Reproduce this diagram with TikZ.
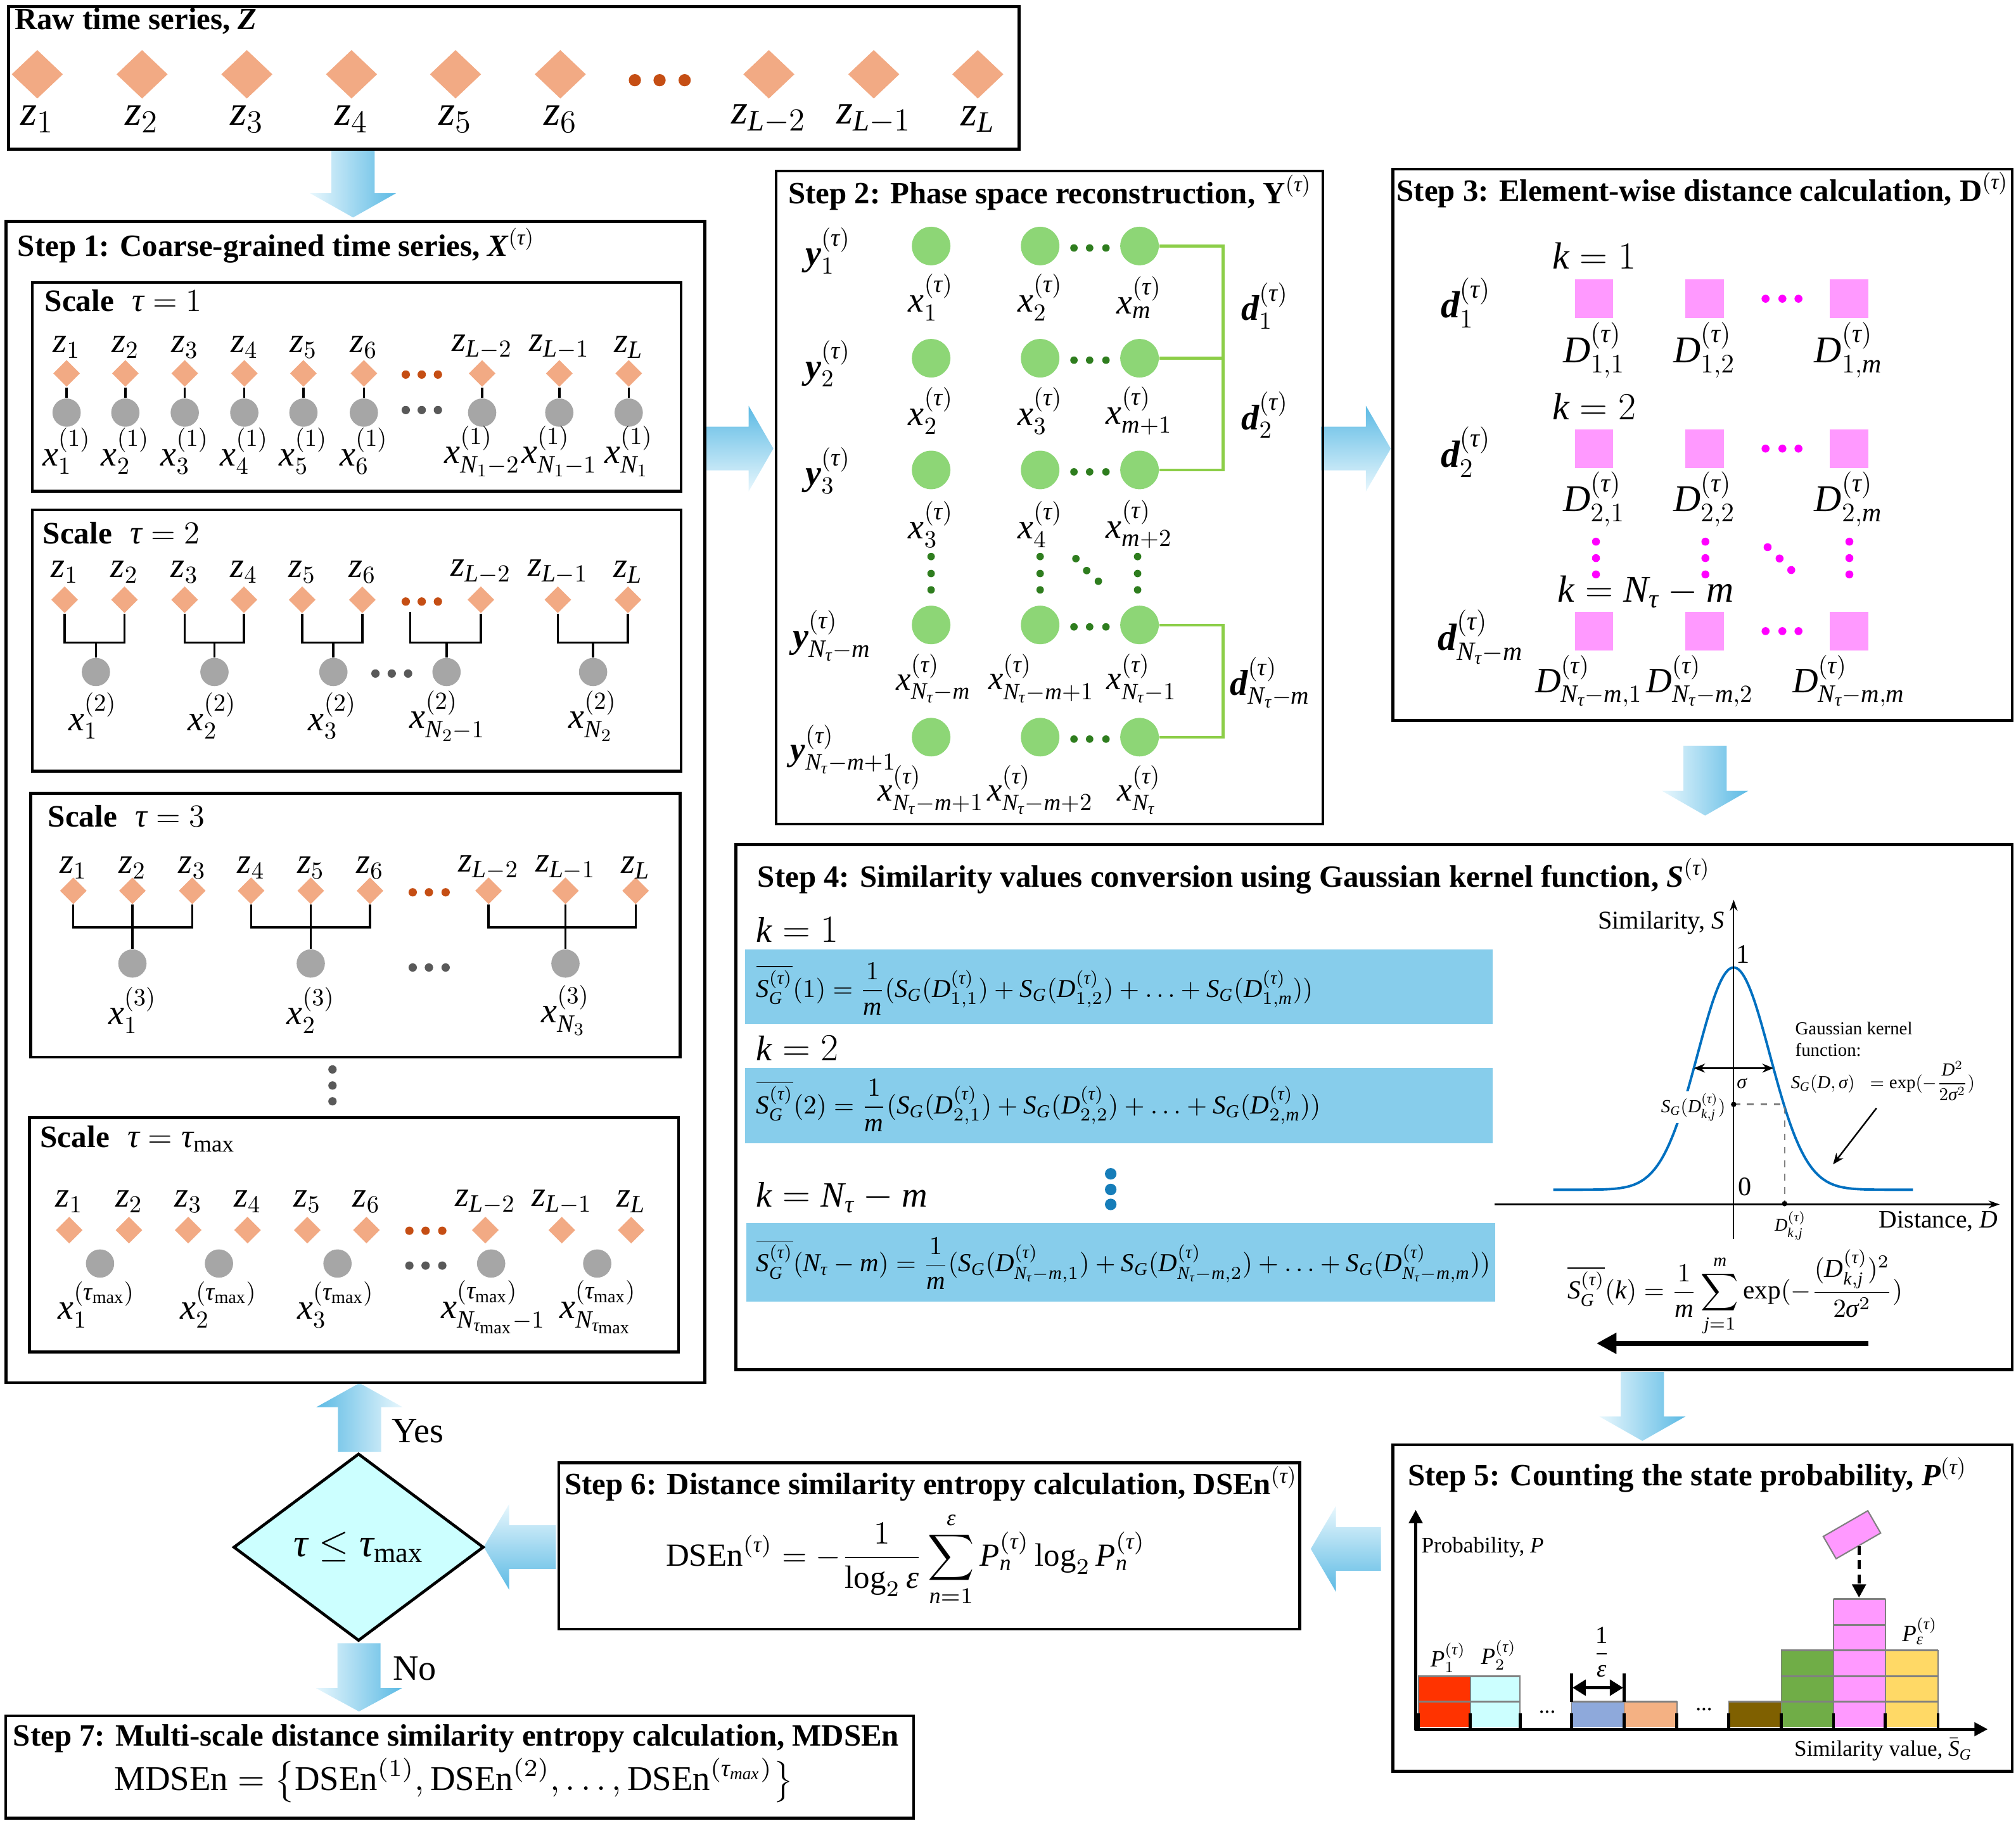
\documentclass[tikz,border=0pt]{standalone}
\usepackage{amsmath}
\usepackage{fontspec}
\setmainfont{Liberation Serif}
\usepackage{graphicx}
\usetikzlibrary{shapes.geometric,arrows.meta}
\DeclareSymbolFont{tletters}{TU}{\rmdefault}{m}{it}
\SetSymbolFont{tletters}{bold}{TU}{\rmdefault}{\bfdefault}{it}
\makeatletter
\AtBeginDocument{%
  \count@=`a \loop\Umathcode\count@="7 \symtletters\count@ \ifnum\count@<`z \advance\count@\@ne\repeat
  \count@=`A \loop\Umathcode\count@="7 \symtletters\count@ \ifnum\count@<`Z \advance\count@\@ne\repeat
  \Umathchardef\tau="0 \symtletters "03C4
  \Umathchardef\sigma="0 \symtletters "03C3
  \Umathchardef\varepsilon="0 \symtletters "03B5
}
\makeatother
\newlength\uu
\setlength\uu{0.020293cm}
\newcommand\fsz[1]{\fontsize{#1}{#1}\selectfont}
\newcommand\boxat[5]{\node[box, minimum width={(#4-#2)*\uu}, minimum height={(#5-#3)*\uu}] (#1) at (#2,#3) {};}
\newcommand\barV[6]{\shade[left color=#1, right color=#2] ({#3-16.8},#4) -- ({#3+16.8},#4) -- ({#3+16.8},#5) -- ({#3+33.5},#5) -- (#3,#6) -- ({#3-33.5},#5) -- ({#3-16.8},#5) -- cycle;}
\newcommand\barH[6]{\shade[top color=#1, bottom color=#2] (#4,{#3-17}) -- (#5,{#3-17}) -- (#5,{#3-33.3}) -- (#6,#3) -- (#5,{#3+33.3}) -- (#5,{#3+17}) -- (#4,{#3+17}) -- cycle;}
\definecolor{peach}{RGB}{242,170,132}
\definecolor{dotor}{RGB}{197,78,20}
\definecolor{grayc}{RGB}{166,166,166}
\definecolor{dotgray}{RGB}{89,89,89}
\definecolor{greenc}{RGB}{141,214,118}
\definecolor{greend}{RGB}{46,125,30}
\definecolor{greenl}{RGB}{140,206,72}
\definecolor{pinksq}{RGB}{255,153,255}
\definecolor{magdot}{RGB}{255,0,255}
\definecolor{band}{RGB}{135,205,235}
\definecolor{bluedot}{RGB}{22,125,185}
\definecolor{curvec}{RGB}{0,112,192}
\definecolor{cyanl}{RGB}{204,255,255}
\definecolor{arrdark}{RGB}{92,186,228}
\definecolor{arrlight}{RGB}{232,247,253}
\definecolor{barred}{RGB}{255,51,0}
\definecolor{barcyan}{RGB}{204,255,255}
\definecolor{barblue}{RGB}{142,169,219}
\definecolor{barpeach}{RGB}{244,177,131}
\definecolor{barbrown}{RGB}{127,96,0}
\definecolor{bargreen}{RGB}{112,173,71}
\definecolor{barpink}{RGB}{255,153,255}
\definecolor{baryellow}{RGB}{255,217,102}
\begin{document}
\begin{tikzpicture}[x=0.020293cm,y=-0.020293cm,
  box/.style={draw, line width=1.3pt, inner sep=0pt, anchor=north west},
  ttl/.style={anchor=west, inner sep=0pt, font=\bfseries\fsz{13.9}},
  sct/.style={anchor=west, inner sep=0pt, font=\bfseries\fsz{14}},
  lab/.style={inner sep=0pt, font=\fsz{16}},
  rawd/.style={diamond, fill=peach, inner sep=0pt, minimum width=40*\uu, minimum height=38*\uu},
  zd/.style={diamond, fill=peach, inner sep=0pt, minimum width=21*\uu, minimum height=21*\uu},
  gc/.style={circle, fill=grayc, inner sep=0pt, minimum size=22*\uu},
  od/.style={circle, fill=dotor, inner sep=0pt, minimum size=6.5*\uu},
  gd/.style={circle, fill=dotgray, inner sep=0pt, minimum size=6.5*\uu},
  conn/.style={line width=1pt},
  grc/.style={circle, fill=greenc, inner sep=0pt, minimum size=30*\uu},
  gdd/.style={circle, fill=greend, inner sep=0pt, minimum size=5.8*\uu},
  gline/.style={greenl, line width=1.2pt},
  psq/.style={rectangle, fill=pinksq, inner sep=0pt, minimum size=30*\uu},
  mdot/.style={circle, fill=magdot, inner sep=0pt, minimum size=6.2*\uu},
  bdot/.style={circle, fill=bluedot, inner sep=0pt, minimum size=9*\uu}]
\useasboundingbox (0,0) rectangle (1568,1416.3);

% ---------- block arrows ----------
\barV{arrlight}{arrdark}{274.6}{115.8}{150.3}{169.2}
\barH{arrdark}{arrlight}{349}{547.8}{582.3}{601.5}
\barH{arrdark}{arrlight}{349}{1027.5}{1062.4}{1081.7}
\barV{arrlight}{arrdark}{1326.2}{580.3}{615.3}{634.5}
\barV{arrlight}{arrdark}{1277.4}{1067.4}{1102}{1121}
\barH{arrlight}{arrdark}{1205}{1074}{1039}{1019.5}
\barH{arrlight}{arrdark}{1203.5}{432.3}{396}{376.2}
\barV{arrdark}{arrlight}{279.6}{1129.5}{1094.7}{1076}
\barV{arrlight}{arrdark}{279.2}{1278.4}{1313.3}{1331.5}

% ---------- boxes ----------
\boxat{raw}{5.5}{4}{791.5}{115}
\boxat{s1}{3.5}{171}{547}{1074.5}
\boxat{sc1}{24}{218.6}{528.5}{381}
\boxat{sc2}{24}{395.6}{528.5}{598.8}
\boxat{sc3}{22.9}{616}{527.8}{821.4}
\boxat{scm}{21.8}{868.5}{526.7}{1050.8}
\boxat{s2}{602.5}{132}{1027.7}{640}
\boxat{s3}{1082.3}{130.4}{1564}{559.5}
\boxat{s4}{571.3}{655.9}{1564}{1064.5}
\boxat{s5}{1082.2}{1122.8}{1564}{1376.8}
\boxat{s6}{433.6}{1136.8}{1009.7}{1266.2}
\boxat{s7}{3.3}{1333.7}{709.4}{1413.3}

% ---------- raw time series ----------
\node[ttl] (rawt) at (11,16.4) {Raw time series, $\boldsymbol{Z}$};
\foreach \x/\s [count=\i] in {29/1,110.5/2,192/3,273.4/4,354.3/5,435.8/6,598/L-2,679.6/L-1,760.5/L}{
  \node[rawd] (rz\i) at (\x,57.8) {};
  \node[lab,font=\fsz{19}] (rzl\i) at (\x,92.6) {$z_{\s}$};}
\foreach \x [count=\i] in {493.8,513,532.5} \node[od,minimum size=9.5*\uu] (rdt\i) at (\x,62.4) {};

% ---------- step 1 ----------
\node[ttl] (s1t) at (13.4,191) {Step 1: Coarse-grained time series, $\boldsymbol{X}^{(\tau)}$};
% scale 1
\node[sct] (sc1t) at (34.5,234) {Scale\hspace{8pt}{\fsz{15}$\tau=1$}};
\foreach \x/\s/\n [count=\i] in {51.8/1/1,97.5/2/2,143.7/3/3,190/4/4,236/5/5,283/6/6,375/L-2/N_1-2,435/L-1/N_1-1,489/L/N_1}{
  \node[zd] (ad\i) at (\x,290.5) {};
  \node[gc] (ac\i) at (\x,321) {};
  \draw[conn] (ad\i) -- (ac\i);
  \node[lab] (azl\i) at (\x,270) {$z_{\s}$};
  \node[lab] (axl\i) at (\x,351) {$x_{\n}^{(1)}$};}
\foreach \x [count=\i] in {315.6,328,340.6}{
  \node[od] (ao\i) at (\x,291.4) {};
  \node[gd] (ag\i) at (\x,319) {};}
% scale 2
\node[sct] (sc2t) at (33,415) {Scale\hspace{8pt}{\fsz{15}$\tau=2$}};
\foreach \x/\s [count=\i] in {50.3/1,96.8/2,143.6/3,189.7/4,235/5,281.8/6,374/L-2,433.9/L-1,488.4/L}{
  \node[zd] (bd\i) at (\x,466.6) {};
  \node[lab] (bzl\i) at (\x,445) {$z_{\s}$};}
\foreach \x [count=\i] in {315.6,328,340.6} \node[od] (bo\i) at (\x,468) {};
\foreach \x [count=\i] in {292,304.7,317.4} \node[gd] (bg\i) at (\x,524) {};
\foreach \x/\n [count=\i] in {74.6/1,166.8/2,259.3/3,347.3/N_2-1,461.3/N_2}{
  \node[gc] (bc\i) at (\x,522.8) {};
  \coordinate (hb\i) at (\x,500);}
\foreach \x/\n [count=\i] in {72/1,165/2,258.6/3,348/N_2-1,461/N_2}
  \node[lab] (bxl\i) at (\x,557) {$x_{\n}^{(2)}$};
\coordinate (bdots) at (319,475.8);
\draw[conn] (bd1.south) |- (hb1) -| (bd2.south); \draw[conn] (hb1) -- (bc1.north);
\draw[conn] (bd3.south) |- (hb2) -| (bd4.south); \draw[conn] (hb2) -- (bc2.north);
\draw[conn] (bd5.south) |- (hb3) -| (bd6.south); \draw[conn] (hb3) -- (bc3.north);
\draw[conn] (bdots) |- (hb4) -| (bd7.south); \draw[conn] (hb4) -- (bc4.north);
\draw[conn] (bd8.south) |- (hb5) -| (bd9.south); \draw[conn] (hb5) -- (bc5.north);
% scale 3
\node[sct] (sc3t) at (37,635) {Scale\hspace{8pt}{\fsz{15}$\tau=3$}};
\foreach \x/\s [count=\i] in {57/1,103/2,149.5/3,195.3/4,241.7/5,287.8/6,380/L-2,439.8/L-1,494.4/L}{
  \node[zd] (cd\i) at (\x,693) {};
  \node[lab] (czl\i) at (\x,675) {$z_{\s}$};}
\foreach \x [count=\i] in {321,333.6,346.6}{
  \node[od] (co\i) at (\x,694.2) {};
  \node[gd] (cg\i) at (\x,752.7) {};}
\foreach \x/\n [count=\i] in {103/1,241.7/2,439.8/N_3}{
  \node[gc] (cc\i) at (\x,749.6) {};
  \coordinate (hc\i) at (\x,721.3);
  \node[lab] (cxl\i) at (\x,786) {$x_{\n}^{(3)}$};}
\draw[conn] (cd1.south) |- (hc1) -| (cd3.south); \draw[conn] (cd2.south) -- (cc1.north);
\draw[conn] (cd4.south) |- (hc2) -| (cd6.south); \draw[conn] (cd5.south) -- (cc2.north);
\draw[conn] (cd7.south) |- (hc3) -| (cd9.south); \draw[conn] (cd8.south) -- (cc3.north);
\foreach \y [count=\i] in {832,844.5,856.8} \node[gd] (vd\i) at (258.6,\y) {};
% scale tau max
\node[sct] (scmt) at (31,886) {Scale\hspace{8pt}{\fsz{15}$\tau=\tau_{\max}$}};
\foreach \x/\s [count=\i] in {53.8/1,100.3/2,146.4/3,192.5/4,239/5,285/6,377.5/L-2,437/L-1,490.9/L}{
  \node[zd] (md\i) at (\x,957) {};
  \node[lab] (mzl\i) at (\x,935) {$z_{\s}$};}
\foreach \x [count=\i] in {318.4,331,344}{
  \node[od] (mo\i) at (\x,957.5) {};
  \node[gd] (mg\i) at (\x,984.6) {};}
\foreach \x [count=\i] in {77.8,170.3,262.5,382,464.5} \node[gc] (mc\i) at (\x,983) {};
\node[lab] (mxl1) at (75,1015) {$x_{1}^{(\tau_{\max})}$};
\node[lab] (mxl2) at (170,1015) {$x_{2}^{(\tau_{\max})}$};
\node[lab] (mxl3) at (261,1015) {$x_{3}^{(\tau_{\max})}$};
\node[lab] (mxl4) at (383.5,1017) {$x_{N_{\tau_{\max}}-1}^{(\tau_{\max})}$};
\node[lab] (mxl5) at (465,1017) {$x_{N_{\tau_{\max}}}^{(\tau_{\max})}$};

% ---------- step 2 ----------
\node[ttl] (s2t) at (612.7,149.8) {Step 2: Phase space reconstruction, $\mathbf{Y}^{(\tau)}$};
\foreach \r/\yy in {1/191.4,2/278.7,3/365.6,4/486.2,5/573.5}{
  \node[grc] (p\r a) at (724.2,\yy) {};
  \node[grc] (p\r b) at (809,\yy) {};
  \node[grc] (p\r c) at (886.3,\yy) {};
  \foreach \x [count=\i] in {835.3,847.5,860.2} \node[gdd] (pd\r\i) at (\x,\yy+1.5) {};}
\foreach \x [count=\i] in {724.2,809,884.8}{
  \node[gdd] (pv\i a) at (\x,433) {};
  \node[gdd] (pv\i b) at (\x,446.2) {};
  \node[gdd] (pv\i c) at (\x,458.9) {};}
\node[gdd] (pg1) at (836.8,434.6) {};
\node[gdd] (pg2) at (845.2,443.9) {};
\node[gdd] (pg3) at (854.3,452.2) {};
\coordinate (gb1) at (951.3,191.4);
\coordinate (gb2) at (951.3,278.7);
\coordinate (gb3) at (951.3,365.6);
\coordinate (gb4) at (951.3,486.2);
\coordinate (gb5) at (951.3,573.5);
\draw[gline] (p1c.east) -- (gb1) -- (gb3) -- (p3c.east);
\draw[gline] (p2c.east) -- (gb2);
\draw[gline] (p4c.east) -- (gb4) -- (gb5) -- (p5c.east);
\node[lab] (py1) at (644,195) {$\boldsymbol{y}_1^{(\tau)}$};
\node[lab] (py2) at (644,283) {$\boldsymbol{y}_2^{(\tau)}$};
\node[lab] (py3) at (644,366) {$\boldsymbol{y}_3^{(\tau)}$};
\node[lab] (py4) at (647,494.5) {$\boldsymbol{y}_{N_\tau-m}^{(\tau)}$};
\node[lab,font=\fsz{15}] (py5) at (656,583) {$\boldsymbol{y}_{N_\tau-m+1}^{(\tau)}$};
\node[lab] (pdl1) at (983.8,238) {$\boldsymbol{d}_1^{(\tau)}$};
\node[lab] (pdl2) at (983.8,323) {$\boldsymbol{d}_2^{(\tau)}$};
\node[lab] (pdl3) at (988,531.2) {$\boldsymbol{d}_{N_\tau-m}^{(\tau)}$};
\node[lab] (px11) at (724,231.4) {$x_1^{(\tau)}$};
\node[lab] (px12) at (809,231.4) {$x_2^{(\tau)}$};
\node[lab] (px13) at (886,231.4) {$x_m^{(\tau)}$};
\node[lab] (px21) at (724,319.6) {$x_2^{(\tau)}$};
\node[lab] (px22) at (809,319.6) {$x_3^{(\tau)}$};
\node[lab] (px23) at (886,319.6) {$x_{m+1}^{(\tau)}$};
\node[lab] (px31) at (724,408) {$x_3^{(\tau)}$};
\node[lab] (px32) at (809,408) {$x_4^{(\tau)}$};
\node[lab] (px33) at (886,408) {$x_{m+2}^{(\tau)}$};
\node[lab,font=\fsz{15}] (px41) at (726,528) {$x_{N_\tau-m}^{(\tau)}$};
\node[lab,font=\fsz{15}] (px42) at (809.9,528) {$x_{N_\tau-m+1}^{(\tau)}$};
\node[lab,font=\fsz{15}] (px43) at (888,528) {$x_{N_\tau-1}^{(\tau)}$};
\node[lab,font=\fsz{15}] (px51) at (724,614.5) {$x_{N_\tau-m+1}^{(\tau)}$};
\node[lab,font=\fsz{15}] (px52) at (809,614.5) {$x_{N_\tau-m+2}^{(\tau)}$};
\node[lab,font=\fsz{15}] (px53) at (886,614.5) {$x_{N_\tau}^{(\tau)}$};

% ---------- step 3 ----------
\node[ttl] (s3t) at (1086,147.9) {Step 3: Element-wise distance calculation, $\mathbf{D}^{(\tau)}$};
\foreach \r/\yy in {1/232.4,2/349,3/491}{
  \node[psq] (q\r a) at (1239.8,\yy) {};
  \node[psq] (q\r b) at (1325.9,\yy) {};
  \node[psq] (q\r c) at (1438.1,\yy) {};
  \foreach \x [count=\i] in {1373.2,1386.3,1398.8} \node[mdot] (qd\r\i) at (\x,\yy) {};}
\foreach \x [count=\i] in {1241.3,1326.4,1438.4}{
  \node[mdot] (qv\i a) at (\x,421.4) {};
  \node[mdot] (qv\i b) at (\x,434.2) {};
  \node[mdot] (qv\i c) at (\x,446.9) {};}
\node[mdot] (qg1) at (1374.8,425.7) {};
\node[mdot] (qg2) at (1384.1,434.5) {};
\node[mdot] (qg3) at (1393.2,443.5) {};
\node[lab,font=\fsz{17}] (qk1) at (1240,198.8) {$k=1$};
\node[lab,font=\fsz{17}] (qk2) at (1240,316.2) {$k=2$};
\node[lab,font=\fsz{17}] (qk3) at (1280,460.5) {$k=N_\tau-m$};
\node[lab,font=\fsz{17}] (qdl1) at (1140,235.6) {$\boldsymbol{d}_1^{(\tau)}$};
\node[lab,font=\fsz{17}] (qdl2) at (1140,351.6) {$\boldsymbol{d}_2^{(\tau)}$};
\node[lab,font=\fsz{17}] (qdl3) at (1151.6,495.8) {$\boldsymbol{d}_{N_\tau-m}^{(\tau)}$};
\node[lab,font=\fsz{17}] (qD11) at (1239.8,272.4) {$D_{1,1}^{(\tau)}$};
\node[lab,font=\fsz{17}] (qD12) at (1325.5,272.4) {$D_{1,2}^{(\tau)}$};
\node[lab,font=\fsz{17}] (qD13) at (1437.7,272.4) {$D_{1,m}^{(\tau)}$};
\node[lab,font=\fsz{17}] (qD21) at (1239.8,388.4) {$D_{2,1}^{(\tau)}$};
\node[lab,font=\fsz{17}] (qD22) at (1325.5,388.4) {$D_{2,2}^{(\tau)}$};
\node[lab,font=\fsz{17}] (qD23) at (1437.7,388.4) {$D_{2,m}^{(\tau)}$};
\node[lab] (qD31) at (1235.7,529.8) {$D_{N_\tau-m,1}^{(\tau)}$};
\node[lab] (qD32) at (1322,529.8) {$D_{N_\tau-m,2}^{(\tau)}$};
\node[lab] (qD33) at (1438,529.8) {$D_{N_\tau-m,m}^{(\tau)}$};

% ---------- step 4 ----------
\node[ttl] (s4t) at (589,681.6) {Step 4: Similarity values conversion using Gaussian kernel function, $\boldsymbol{S}^{(\tau)}$};
\fill[band] (579.4,738.9) rectangle (1161,797);
\fill[band] (579.4,831) rectangle (1161,889.2);
\fill[band] (580.5,951.3) rectangle (1163,1012.7);
\node[lab,anchor=west] (k1) at (587.8,723.5) {$k=1$};
\node[lab,anchor=west] (k2) at (587.8,815.4) {$k=2$};
\node[lab,anchor=west] (k3) at (587.8,931.6) {$k=N_\tau-m$};
\node[anchor=west,inner sep=0pt] (eq1) at (587.8,769.4) {\resizebox{433\uu}{!}{$\overline{S_G^{(\tau)}}(1)=\dfrac{1}{m}(S_G(D_{1,1}^{(\tau)})+S_G(D_{1,2}^{(\tau)})+\ldots+S_G(D_{1,m}^{(\tau)}))$}};
\node[anchor=west,inner sep=0pt] (eq2) at (587.8,860) {\resizebox{439\uu}{!}{$\overline{S_G^{(\tau)}}(2)=\dfrac{1}{m}(S_G(D_{2,1}^{(\tau)})+S_G(D_{2,2}^{(\tau)})+\ldots+S_G(D_{2,m}^{(\tau)}))$}};
\node[anchor=west,inner sep=0pt] (eq3) at (587.8,983) {\resizebox{571\uu}{!}{$\overline{S_G^{(\tau)}}(N_\tau-m)=\dfrac{1}{m}(S_G(D_{N_\tau-m,1}^{(\tau)})+S_G(D_{N_\tau-m,2}^{(\tau)})+\ldots+S_G(D_{N_\tau-m,m}^{(\tau)}))$}};
\foreach \y [count=\i] in {913.2,925.4,937} \node[bdot] (bv\i) at (863.9,\y) {};
% gaussian graph
\draw[curvec, line width=1.1pt] plot[domain=-140.3:139.5, samples=160, smooth] ({1348.4+\x},{925.6-172.9*exp(-0.5*(\x/28.2)^2)});
\draw[line width=0.6pt, -{Stealth[length=5pt,width=3.5pt]}] (1348.4,964) -- (1348.4,700);
\draw[line width=0.6pt, -{Stealth[length=5pt,width=3.5pt]}] (1162.4,937) -- (1555.3,937);
\draw[gray, dashed, line width=0.7pt] (1348.4,859.2) -- (1388,859.2) -- (1388,936.4);
\fill (1348.4,859.2) circle[radius=1.2pt];
\fill (1388,936.4) circle[radius=1.2pt];
\draw[line width=0.9pt, {Stealth[length=5pt,width=4pt]}-{Stealth[length=5pt,width=4pt]}] (1317.4,831) -- (1379.4,831);
\node[font=\fsz{9}, inner sep=0pt] (sig) at (1354.7,842.9) {$\sigma$};
\node[fill=white, inner sep=1pt] (sgl) at (1317,861.3) {\resizebox{50\uu}{!}{$S_G(D_{k,j}^{(\tau)})$}};
\node[font=\fsz{11.5}, inner sep=0pt] (simy) at (1292,718) {Similarity, \textit{S}};
\node[font=\fsz{12}, inner sep=0pt] (one) at (1355.5,742.4) {1};
\node[font=\fsz{12}, inner sep=0pt] (zero) at (1356.9,923.5) {0};
\node[font=\fsz{11.3}, inner sep=0pt] (distx) at (1507.7,950.5) {Distance, \textit{D}};
\node[font=\fsz{8}, inner sep=0pt] (dkj) at (1392.6,953.5) {$D_{k,j}^{(\tau)}$};
\node[anchor=west, align=left, inner sep=0pt, font=\fontsize{8.2}{9.7}\selectfont] (gk) at (1396,808.4) {Gaussian kernel\\ function:};
\node[anchor=west, inner sep=0pt] (kf) at (1392.6,841) {\resizebox{143\uu}{!}{$S_G(D,\sigma)\;\;=\exp(-\dfrac{D^2}{2\sigma^2})$}};
\draw[line width=0.7pt, -{Stealth[length=5pt,width=4pt]}] (1459.5,862.1) -- (1425.7,905.9);
\node[inner sep=0pt] (gf) at (1349.6,1006) {\resizebox{260.6\uu}{!}{$\displaystyle\overline{S_G^{(\tau)}}(k)=\frac{1}{m}\sum_{j=1}^{m}\exp(-\frac{(D_{k,j}^{(\tau)})^2}{2\sigma^2})$}};
\draw[line width=2.3pt, -{Triangle[length=9pt,width=9pt]}] (1453.4,1045.1) -- (1241.7,1045.1);

% ---------- step 5 ----------
\node[ttl] (s5t) at (1094.8,1147.6) {Step 5: Counting the state probability, $\boldsymbol{P}^{(\tau)}$};
\foreach \xa/\xb/\n/\c in {1103.3/1143.6/2/barred,1143.6/1182.3/2/barcyan,1222.3/1263.2/1/barblue,1263.2/1304.2/1/barpeach,1344.5/1385.4/1/barbrown,1385.4/1426/3/bargreen,1426/1466.3/5/barpink,1466.3/1507.3/3/baryellow}{
  \fill[\c] (\xa,1344) rectangle (\xb,{1344-20*\n});
  \draw[gray, line width=0.5pt] (\xa,1344) -- (\xa,{1344-20*\n}) -- (\xb,{1344-20*\n}) -- (\xb,1344);
  \foreach \k in {1,...,\n} \draw[gray, line width=0.8pt] (\xa,{1344-20*\k}) -- (\xb,{1344-20*\k});}
\foreach \x in {1103.3,1143.6,1182.3,1222.3,1263.2,1304.2,1344.5,1385.4,1426,1466.3,1507.3}
  \draw[line width=1.3pt] (\x,1333) -- (\x,1345);
\draw[line width=1.4pt, -{Triangle[length=6pt,width=6pt]}] (1101.1,1346) -- (1101.1,1174.6);
\draw[line width=1.4pt, -{Triangle[length=6pt,width=6pt]}] (1100.4,1345.3) -- (1546,1345.3);
\node[anchor=west, inner sep=0pt, font=\fsz{10}] (probl) at (1105.2,1203.7) {Probability, \textit{P}};
\node[anchor=east, inner sep=0pt, font=\fsz{10}] (simv) at (1534,1361.3) {Similarity value, $\bar{S}_G$};
\node[font=\fsz{10.5}, inner sep=0pt] (p1) at (1126.3,1289.7) {$P_1^{(\tau)}$};
\node[font=\fsz{10.5}, inner sep=0pt] (p2) at (1165.6,1287.6) {$P_2^{(\tau)}$};
\node[font=\fsz{10.5}, inner sep=0pt] (pe) at (1493.1,1269) {$P_\varepsilon^{(\tau)}$};
\node[font=\fsz{10}, inner sep=0pt] (dd1) at (1203.4,1332) {...};
\node[font=\fsz{10}, inner sep=0pt] (dd2) at (1325.3,1330) {...};
\node[font=\fsz{11}, inner sep=0pt] (fr1) at (1245.9,1272) {1};
\draw[line width=0.7pt] (1242,1286.6) -- (1249.6,1286.6);
\node[font=\fsz{11}, inner sep=0pt] (fre) at (1245.9,1300) {$\varepsilon$};
\draw[line width=1.3pt] (1222.3,1302) -- (1222.3,1324);
\draw[line width=1.3pt] (1263.2,1302) -- (1263.2,1324);
\draw[line width=1.6pt, {Triangle[length=6pt,width=7pt]}-{Triangle[length=6pt,width=7pt]}] (1223,1313) -- (1262.5,1313);
\node[rectangle, fill=barpink, draw=gray, line width=0.6pt, inner sep=0pt, minimum width=40*\uu, minimum height=20*\uu, rotate=30] (chip) at (1440.4,1194) {};
\coordinate (chipb) at (1445.9,1202.6);
\coordinate (pinktop) at (1445.9,1243);
\draw[line width=1.5pt, dash pattern=on 4pt off 2.5pt, -{Triangle[length=6pt,width=6pt]}] (chipb) -- (pinktop);

% ---------- step 6 ----------
\node[ttl] (s6t) at (438.9,1154.5) {Step 6: Distance similarity entropy calculation, DSEn$^{(\tau)}$};
\node[inner sep=0pt] (f6) at (704.5,1213) {\resizebox{373\uu}{!}{$\displaystyle \mathrm{DSEn}^{(\tau)}=-\frac{1}{\log_2\varepsilon}\sum_{n=1}^{\varepsilon}P_n^{(\tau)}\log_2 P_n^{(\tau)}$}};

% ---------- decision ----------
\node[diamond, draw, fill=cyanl, line width=1.3pt, inner sep=0pt, minimum width=194.7*\uu, minimum height=145.8*\uu, font=\fsz{18}] (dec) at (278.9,1203.7) {$\tau\le\tau_{\max}$};
\node[font=\fsz{16}, inner sep=0pt] (yes) at (325,1113.5) {Yes};
\node[font=\fsz{16}, inner sep=0pt] (no) at (322.5,1298.3) {No};

% ---------- step 7 ----------
\node[ttl] (s7t) at (10,1352.5) {Step 7: Multi-scale distance similarity entropy calculation, MDSEn};
\node[inner sep=0pt] (f7) at (353,1385) {\resizebox{528\uu}{!}{$\mathrm{MDSEn}=\bigl\{\mathrm{DSEn}^{(1)},\mathrm{DSEn}^{(2)},\ldots,\mathrm{DSEn}^{(\tau_{max})}\bigr\}$}};
\end{tikzpicture}
\end{document}
